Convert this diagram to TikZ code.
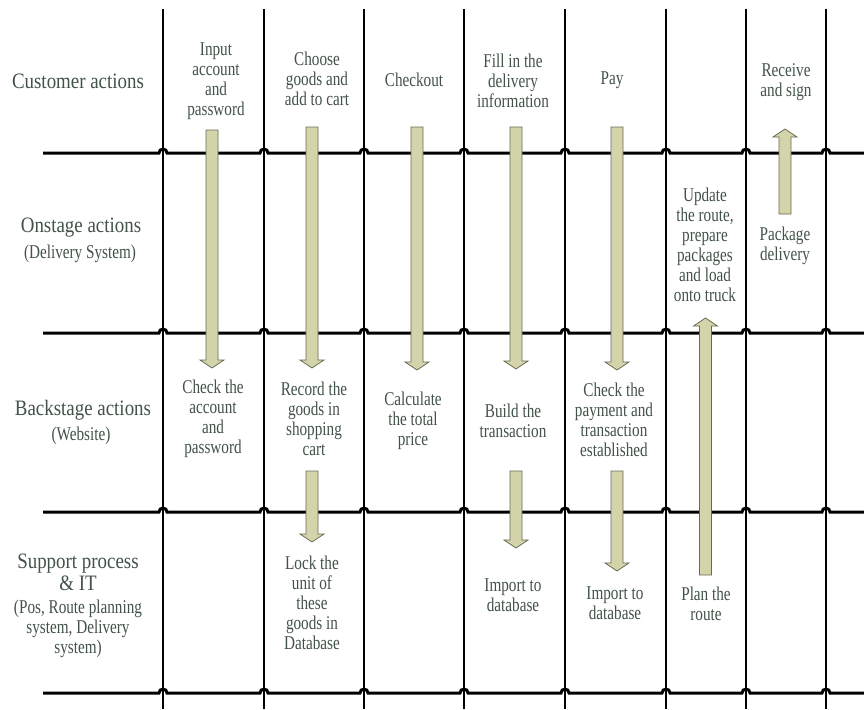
\documentclass[tikz,border=0pt]{standalone}
\usepackage{fontspec}
\setmainfont{Liberation Serif}
\newfontfamily\cellfont{Liberation Serif}[FakeStretch=0.78]
\newfontfamily\rowfont{Liberation Serif}[FakeStretch=0.86]
\definecolor{ink}{RGB}{66,82,72}
\definecolor{khaki}{RGB}{212,212,170}
\definecolor{khakiedge}{RGB}{105,105,85}

\tikzset{
  cell/.style={align=center, inner sep=0pt, text=ink,
    font=\cellfont\fontsize{19.5}{20}\selectfont},
  rowlabel/.style={align=center, inner sep=0pt, text=ink,
    font=\rowfont\fontsize{22}{22}\selectfont},
  lane/.style={line width=3pt, black},
  divider/.style={line width=2pt, black},
  blockarrow/.style={fill=khaki, draw=khakiedge, line width=0.8pt, line join=miter},
}

% block arrow: x centre, tail y, tip y (y grows downward)
\newcommand\blockarrow[3]{%
  \pgfmathsetmacro\hd{(#3>#2) ? -8 : 8}%
  \draw[blockarrow] (#1-6,#2) -- (#1+6,#2) -- (#1+6,#3+\hd) -- (#1+12,#3+\hd)
    -- (#1,#3) -- (#1-12,#3+\hd) -- (#1-6,#3+\hd) -- cycle;
}

\begin{document}
\begin{tikzpicture}[x=1pt, y=-1pt]
\useasboundingbox (0,0) rectangle (864,709);

% column dividers
\foreach \vx in {163,264,364,464,565,666,746,826}
  \draw[divider] (\vx,9) -- (\vx,709);

% lane separators, hopping over each divider
\foreach \hy in {153,333,512,693}
  \draw[lane] (43,\hy)
    foreach \vx in {163,264,364,464,565,666,746,826}
      { -- (\vx-4,\hy) arc[start angle=180, end angle=0, radius=4pt] }
    -- (864,\hy);

% flow arrows
\blockarrow{212}{130}{368}
\blockarrow{312}{127}{368}
\blockarrow{417}{127}{370}
\blockarrow{516}{127}{369}
\blockarrow{617}{127}{370}
\blockarrow{312}{471}{542}
\blockarrow{516}{471}{548}
\blockarrow{617}{471}{571}
\blockarrow{705.5}{575}{318}
\blockarrow{785}{214}{129}

% lane titles
\node[rowlabel] (l1) at (78,81) {Customer actions};
\node[rowlabel] (l2) at (81,228) {Onstage actions};
\node[cell] (l2s) at (80,254) {(Delivery System)};
\node[rowlabel] (l3) at (83,410) {Backstage actions};
\node[cell] (l3s) at (81,436) {(Website)};
\node[rowlabel] (l4) at (78,572) {Support process\\\& IT};
\node[cell] (l4s) at (78,629) {(Pos, Route planning\\system, Delivery\\system)};

% customer actions
\node[cell] (c1) at (216,81) {Input\\account\\and\\password};
\node[cell] (c2) at (317,79) {Choose\\goods and\\add to cart};
\node[cell] (c3) at (414,80) {Checkout};
\node[cell] (c4) at (513,81) {Fill in the\\delivery\\information};
\node[cell] (c5) at (612,80) {Pay};
\node[cell] (c7) at (786,82) {Receive\\and sign};

% onstage actions
\node[cell] (o6) at (705,245) {Update\\the route,\\prepare\\packages\\and load\\onto truck};
\node[cell] (o7) at (785,246) {Package\\delivery};

% backstage actions
\node[cell] (b1) at (213,419) {Check the\\account\\and\\password};
\node[cell] (b2) at (314,419) {Record the\\goods in\\shopping\\cart};
\node[cell] (b3) at (413,421) {Calculate\\the total\\price};
\node[cell] (b4) at (513,421) {Build the\\transaction};
\node[cell] (b5) at (614,420) {Check the\\payment and\\transaction\\established};

% support processes
\node[cell] (s2) at (312,603) {Lock the\\unit of\\these\\goods in\\Database};
\node[cell] (s4) at (513,595) {Import to\\database};
\node[cell] (s5) at (615,603) {Import to\\database};
\node[cell] (s6) at (706,604) {Plan the\\route};
\end{tikzpicture}
\end{document}
